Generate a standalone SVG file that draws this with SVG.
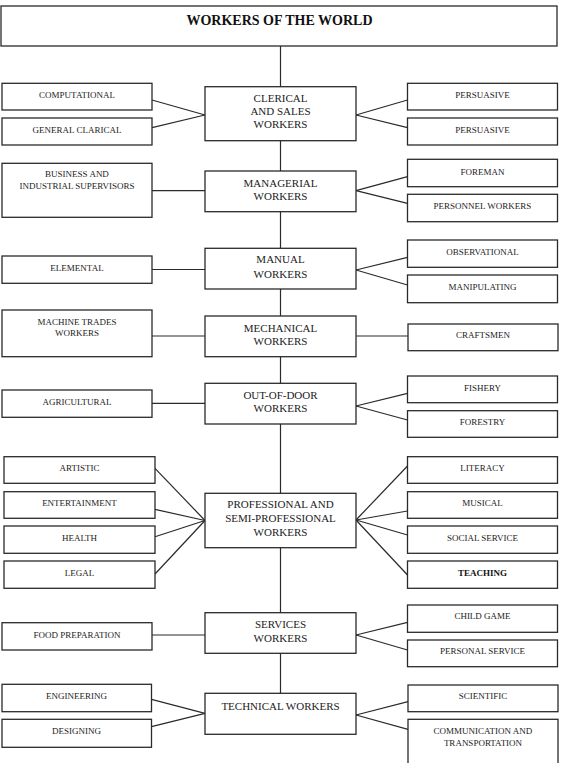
<svg xmlns="http://www.w3.org/2000/svg" width="564" height="763" viewBox="0 0 564 763">
<style>
.b{fill:#fff;stroke:#2a2a2a;stroke-width:1.3}
.l{stroke:#2a2a2a;stroke-width:1.2;fill:none}
text{font-family:"Liberation Serif","Times New Roman",serif;font-size:9px;fill:#222;text-anchor:middle}
.c{font-size:11px}
.h{font-size:14px;font-weight:bold;fill:#111}
.bd{font-weight:bold;fill:#111}
</style>
<rect width="564" height="763" fill="#fff"/>
<g id="connectors" class="l">
<line x1="280.5" y1="46" x2="280.5" y2="693"/>
<line x1="152" y1="100" x2="205" y2="115"/><line x1="152" y1="127.7" x2="205" y2="115"/>
<line x1="356" y1="115" x2="407.5" y2="100"/><line x1="356" y1="115" x2="407.5" y2="127.7"/>
<line x1="152" y1="190.7" x2="205" y2="190.7"/>
<line x1="356" y1="190.7" x2="407.5" y2="176.7"/><line x1="356" y1="190.7" x2="407.5" y2="203.3"/>
<line x1="152" y1="269.5" x2="205" y2="269.5"/>
<line x1="356" y1="270" x2="407.5" y2="257.3"/><line x1="356" y1="270" x2="407.5" y2="285"/>
<line x1="152" y1="336" x2="205" y2="336"/>
<line x1="356" y1="336" x2="408" y2="336"/>
<line x1="152" y1="403.3" x2="205" y2="403.3"/>
<line x1="356" y1="406" x2="407.5" y2="393.3"/><line x1="356" y1="406" x2="407.5" y2="420"/>
<line x1="155" y1="468.3" x2="205" y2="520.5"/><line x1="155" y1="509.3" x2="205" y2="520.5"/>
<line x1="155" y1="536.7" x2="205" y2="520.5"/><line x1="155" y1="574" x2="205" y2="520.5"/>
<line x1="356" y1="520" x2="407.5" y2="466"/><line x1="356" y1="520" x2="407.5" y2="511"/>
<line x1="356" y1="520" x2="407.5" y2="535"/><line x1="356" y1="520" x2="407.5" y2="575"/>
<line x1="152" y1="635" x2="205" y2="635"/>
<line x1="356" y1="635" x2="407.5" y2="622.3"/><line x1="356" y1="635" x2="407.5" y2="650"/>
<line x1="151.5" y1="699.3" x2="205" y2="713.3"/><line x1="151.5" y1="726.7" x2="205" y2="713.3"/>
<line x1="356" y1="715" x2="408" y2="701.7"/><line x1="356" y1="715" x2="408" y2="729.3"/>
</g>
<g id="world"><rect class="b" x="1" y="6" width="556" height="40"/><text class="h" x="279.5" y="25">WORKERS OF THE WORLD</text></g>

<g id="clerical"><rect class="b" x="205" y="86.7" width="151" height="54"/><text class="c" x="280.5" y="101.7">CLERICAL</text><text class="c" x="280.5" y="115">AND SALES</text><text class="c" x="280.5" y="128.3">WORKERS</text></g>
<g id="computational"><rect class="b" x="2" y="83.3" width="150" height="26.7"/><text x="77" y="98.3">COMPUTATIONAL</text></g>
<g id="general-clarical"><rect class="b" x="2" y="118" width="150" height="27"/><text x="77" y="133">GENERAL CLARICAL</text></g>
<g id="persuasive1"><rect class="b" x="407.5" y="83.3" width="150" height="26.7"/><text x="482.5" y="98.3">PERSUASIVE</text></g>
<g id="persuasive2"><rect class="b" x="407.5" y="118" width="150" height="27"/><text x="482.5" y="133">PERSUASIVE</text></g>

<g id="managerial"><rect class="b" x="205" y="171" width="151" height="40.7"/><text class="c" x="280.5" y="186.7">MANAGERIAL</text><text class="c" x="280.5" y="200">WORKERS</text></g>
<g id="business"><rect class="b" x="2" y="163.3" width="150" height="54"/><text x="77" y="176.7">BUSINESS AND</text><text x="77" y="189.3">INDUSTRIAL SUPERVISORS</text></g>
<g id="foreman"><rect class="b" x="407.5" y="159.3" width="150" height="27.4"/><text x="482.5" y="175">FOREMAN</text></g>
<g id="personnel"><rect class="b" x="407.5" y="194.3" width="150" height="27.4"/><text x="482.5" y="209.3">PERSONNEL WORKERS</text></g>

<g id="manual"><rect class="b" x="205" y="248.3" width="151" height="40.7"/><text class="c" x="280.5" y="263.3">MANUAL</text><text class="c" x="280.5" y="277.7">WORKERS</text></g>
<g id="elemental"><rect class="b" x="2" y="256" width="150" height="27.3"/><text x="77" y="271">ELEMENTAL</text></g>
<g id="observational"><rect class="b" x="407.5" y="240" width="150" height="27.3"/><text x="482.5" y="255">OBSERVATIONAL</text></g>
<g id="manipulating"><rect class="b" x="407.5" y="275" width="150" height="27.7"/><text x="482.5" y="290">MANIPULATING</text></g>

<g id="mechanical"><rect class="b" x="205" y="316" width="151" height="40.7"/><text class="c" x="280.5" y="331.7">MECHANICAL</text><text class="c" x="280.5" y="345">WORKERS</text></g>
<g id="machine-trades"><rect class="b" x="2" y="310" width="150" height="46.7"/><text x="77" y="325">MACHINE TRADES</text><text x="77" y="336">WORKERS</text></g>
<g id="craftsmen"><rect class="b" x="408" y="324" width="150" height="26.7"/><text x="483" y="338.3">CRAFTSMEN</text></g>

<g id="out-of-door"><rect class="b" x="205" y="383.3" width="151" height="40.7"/><text class="c" x="280.5" y="399.3">OUT-OF-DOOR</text><text class="c" x="280.5" y="412.3">WORKERS</text></g>
<g id="agricultural"><rect class="b" x="2" y="390" width="150" height="27.3"/><text x="77" y="405">AGRICULTURAL</text></g>
<g id="fishery"><rect class="b" x="407.5" y="376" width="150" height="26.7"/><text x="482.5" y="390.7">FISHERY</text></g>
<g id="forestry"><rect class="b" x="407.5" y="410.7" width="150" height="26.6"/><text x="482.5" y="425">FORESTRY</text></g>

<g id="professional"><rect class="b" x="205" y="493.3" width="151" height="54.4"/><text class="c" x="280.5" y="508.3">PROFESSIONAL AND</text><text class="c" x="280.5" y="522.3">SEMI-PROFESSIONAL</text><text class="c" x="280.5" y="535.5">WORKERS</text></g>
<g id="artistic"><rect class="b" x="4" y="456.7" width="151" height="26.6"/><text x="79.5" y="471">ARTISTIC</text></g>
<g id="entertainment"><rect class="b" x="4" y="491.7" width="151" height="26.6"/><text x="79.5" y="506">ENTERTAINMENT</text></g>
<g id="health"><rect class="b" x="4" y="526" width="151" height="27.3"/><text x="79.5" y="540.7">HEALTH</text></g>
<g id="legal"><rect class="b" x="4" y="561" width="151" height="27.3"/><text x="79.5" y="576">LEGAL</text></g>
<g id="literacy"><rect class="b" x="407.5" y="456.7" width="150" height="26.6"/><text x="482.5" y="471">LITERACY</text></g>
<g id="musical"><rect class="b" x="407.5" y="491.7" width="150" height="26.6"/><text x="482.5" y="506">MUSICAL</text></g>
<g id="social-service"><rect class="b" x="407.5" y="526" width="150" height="27.3"/><text x="482.5" y="540.7">SOCIAL SERVICE</text></g>
<g id="teaching"><rect class="b" x="407.5" y="561" width="150" height="27.3"/><text class="bd" x="482.5" y="576">TEACHING</text></g>

<g id="services"><rect class="b" x="205" y="612.7" width="151" height="40.6"/><text class="c" x="280.5" y="628.3">SERVICES</text><text class="c" x="280.5" y="641.7">WORKERS</text></g>
<g id="food-preparation"><rect class="b" x="2" y="622.7" width="150" height="27.3"/><text x="77" y="637.7">FOOD PREPARATION</text></g>
<g id="child-game"><rect class="b" x="407.5" y="605" width="150" height="27.3"/><text x="482.5" y="619.3">CHILD GAME</text></g>
<g id="personal-service"><rect class="b" x="407.5" y="640" width="150" height="26.7"/><text x="482.5" y="654.3">PERSONAL SERVICE</text></g>

<g id="technical"><rect class="b" x="205" y="693.3" width="151" height="41"/><text class="c" x="280.5" y="710">TECHNICAL WORKERS</text></g>
<g id="engineering"><rect class="b" x="2" y="684.3" width="149.5" height="27.4"/><text x="76.5" y="699.3">ENGINEERING</text></g>
<g id="designing"><rect class="b" x="2" y="719.3" width="149.5" height="28"/><text x="76.5" y="734.3">DESIGNING</text></g>
<g id="scientific"><rect class="b" x="408" y="685" width="150" height="26.7"/><text x="483" y="699.3">SCIENTIFIC</text></g>
<g id="communication"><rect class="b" x="408" y="719.3" width="150" height="50"/><text x="483" y="734.3">COMMUNICATION AND</text><text x="483" y="745.7">TRANSPORTATION</text></g>
</svg>
